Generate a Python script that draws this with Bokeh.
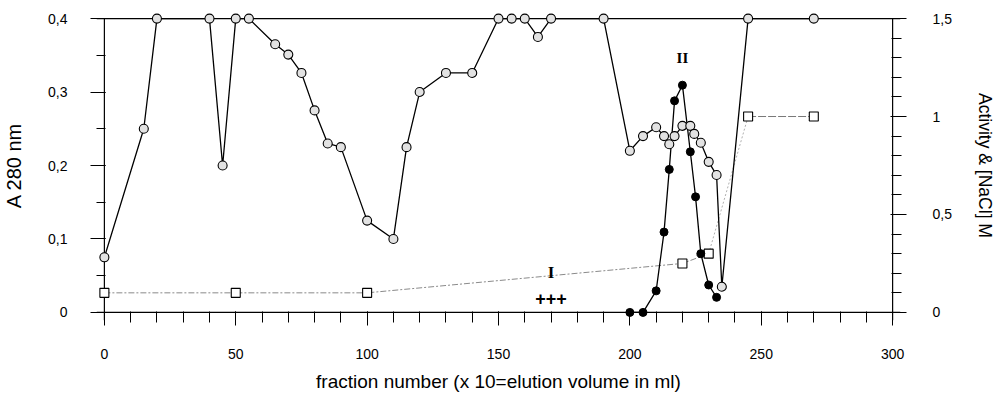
from bokeh.plotting import figure
from bokeh.models import Range1d, LinearAxis, FixedTicker
from bokeh.embed import file_html
from bokeh.resources import INLINE
from bokeh.core.properties import value

# ---- data ----
fraction_a280 = [0, 15, 20, 40, 45, 50, 55, 65, 70, 75, 80, 85, 90, 100, 110, 115, 120, 130, 140,
                 150, 155, 160, 165, 170, 190, 200, 205, 210, 213, 215, 217, 220, 223, 224.5, 227,
                 230, 233, 235, 245, 270]
a280 = [0.075, 0.25, 0.4, 0.4, 0.2, 0.4, 0.4, 0.365, 0.351, 0.326, 0.275, 0.23, 0.225, 0.125, 0.1,
        0.225, 0.30, 0.326, 0.326, 0.4, 0.4, 0.4, 0.375, 0.4, 0.4, 0.22, 0.24, 0.252, 0.24, 0.229,
        0.24, 0.254, 0.254, 0.243, 0.231, 0.205, 0.187, 0.035, 0.4, 0.4]

fraction_activity = [200, 205, 210, 213, 215, 217, 220, 223, 225, 227, 230, 233]
activity = [0, 0, 0.11, 0.41, 0.73, 1.08, 1.16, 0.82, 0.59, 0.30, 0.14, 0.077]

fraction_nacl = [0, 50, 100, 220, 230, 245, 270]
nacl = [0.1, 0.1, 0.1, 0.25, 0.30, 1.0, 1.0]

x_ticks = [0, 50, 100, 150, 200, 250, 300]
x_minor = list(range(0, 301, 10))
left_ticks = [0, 0.1, 0.2, 0.3, 0.4]
left_tick_labels = ["0", "0,1", "0,2", "0,3", "0,4"]
left_minor = [0, 0.05, 0.1, 0.15, 0.2, 0.25, 0.3, 0.35, 0.4]
right_ticks = [0, 0.5, 1.0, 1.5]
right_tick_labels = ["0", "0,5", "1", "1,5"]
right_minor = [round(i * 0.1, 1) for i in range(16)]

annotations = ["II", "I", "+++"]

X0, X1 = 0, 300
Y0, Y1 = 0, 0.4
R0, R1 = 0, 1.5
XPAD = 3
YPAD = 0.011
RPAD = YPAD / (Y1 - Y0) * (R1 - R0)

FONT = "Liberation Sans"

p = figure(width=997, height=407,
           x_range=Range1d(X0 - XPAD, X1 + XPAD),
           y_range=Range1d(Y0 - YPAD, Y1 + YPAD),
           output_backend="svg", toolbar_location=None,
           min_border_left=94, min_border_right=97,
           min_border_top=10, min_border_bottom=87)
p.extra_y_ranges = {"right": Range1d(R0 - RPAD, R1 + RPAD)}
p.outline_line_color = None
p.xgrid.visible = False
p.ygrid.visible = False
p.background_fill_color = "white"
p.border_fill_color = "white"

# x axis
xa = p.xaxis[0]
xa.ticker = FixedTicker(ticks=x_ticks, minor_ticks=x_minor)
xa.axis_line_color = None
xa.major_tick_in = 9
xa.major_tick_out = 5
xa.minor_tick_in = 9
xa.minor_tick_out = 2
xa.major_tick_line_color = "black"
xa.minor_tick_line_color = "black"
xa.major_label_standoff = 23
xa.major_label_text_font = FONT
xa.major_label_text_font_size = "14px"
xa.major_label_text_color = "black"
xa.axis_label = "fraction number (x 10=elution volume in ml)"
xa.axis_label_text_font = FONT
xa.axis_label_text_font_size = "19px"
xa.axis_label_text_font_style = "normal"
xa.axis_label_text_color = "black"
xa.axis_label_standoff = 9

# left axis
ya = p.yaxis[0]
ya.ticker = FixedTicker(ticks=left_ticks, minor_ticks=left_minor)
ya.major_label_overrides = dict(zip(left_ticks, left_tick_labels))
ya.axis_line_color = None
ya.major_tick_in = 9
ya.major_tick_out = 6
ya.minor_tick_in = 9
ya.minor_tick_out = 0
ya.major_label_standoff = 23
ya.major_label_text_font = FONT
ya.major_label_text_font_size = "14px"
ya.major_label_text_color = "black"
ya.axis_label = "A 280 nm"
ya.axis_label_text_font = FONT
ya.axis_label_text_font_size = "20px"
ya.axis_label_text_font_style = "normal"
ya.axis_label_text_color = "black"
ya.axis_label_standoff = 20

# right axis
ra = LinearAxis(y_range_name="right")
ra.ticker = FixedTicker(ticks=right_ticks, minor_ticks=right_minor)
ra.major_label_overrides = dict(zip(right_ticks, right_tick_labels))
ra.axis_line_color = None
ra.major_tick_in = 10
ra.major_tick_out = 6
ra.minor_tick_in = 9
ra.minor_tick_out = 1
ra.major_label_standoff = 26
ra.major_label_text_font = FONT
ra.major_label_text_font_size = "14px"
ra.major_label_text_color = "black"
ra.axis_label = "Activity & [NaCl] M"
ra.axis_label_text_font = FONT
ra.axis_label_text_font_size = "17.5px"
ra.axis_label_text_font_style = "normal"
ra.axis_label_text_color = "black"
ra.axis_label_standoff = 20
p.add_layout(ra, "right")

# frame lines (axes drawn at data 0 / 0.4 / 300)
p.segment(x0=[X0 - XPAD, X0 - XPAD, X0, X1], y0=[Y0, Y1, Y0 - YPAD, Y0 - YPAD],
          x1=[X1 + XPAD, X1 + XPAD, X0, X1], y1=[Y0, Y1, Y1, Y1],
          line_color="black", line_width=1.2)

# NaCl (squares) line pieces
p.line(fraction_nacl[:5], nacl[:5], y_range_name="right",
       line_color="#8a8a8a", line_width=1, line_dash="6 2 2 2")
p.line(fraction_nacl[4:6], nacl[4:6], y_range_name="right",
       line_color="#b0b0b0", line_width=1, line_dash="2 2")
p.line(fraction_nacl[5:], nacl[5:], y_range_name="right",
       line_color="#777777", line_width=1, line_dash="8 2")

# A280 line and activity line
p.line(fraction_a280, a280, line_color="black", line_width=1.3)
p.line(fraction_activity, activity, y_range_name="right", line_color="black", line_width=1.3)

# markers
p.scatter(fraction_nacl, nacl, y_range_name="right", marker="square", size=9,
          fill_color="white", line_color="black", line_width=1.1)
p.scatter(fraction_a280, a280, marker="circle", size=9,
          fill_color="#e2e2e2", line_color="black", line_width=1.1)
p.scatter(fraction_activity, activity, y_range_name="right", marker="circle", size=8,
          fill_color="black", line_color="black")

# annotations
p.text(x=[220], y=[0.347], text=[annotations[0]], text_font=value("Liberation Serif"),
       text_font_style="bold", text_font_size="15px", text_align="center",
       text_baseline="middle", text_color="black")
p.text(x=[170], y=[0.054], text=[annotations[1]], text_font=value("Liberation Serif"),
       text_font_style="bold", text_font_size="17px", text_align="center",
       text_baseline="middle", text_color="black")
p.text(x=[170], y=[0.019], text=[annotations[2]], text_font=value(FONT),
       text_font_style="bold", text_font_size="18px", text_align="center",
       text_baseline="middle", text_color="black")

open("out.html", "w").write(file_html(p, INLINE))
